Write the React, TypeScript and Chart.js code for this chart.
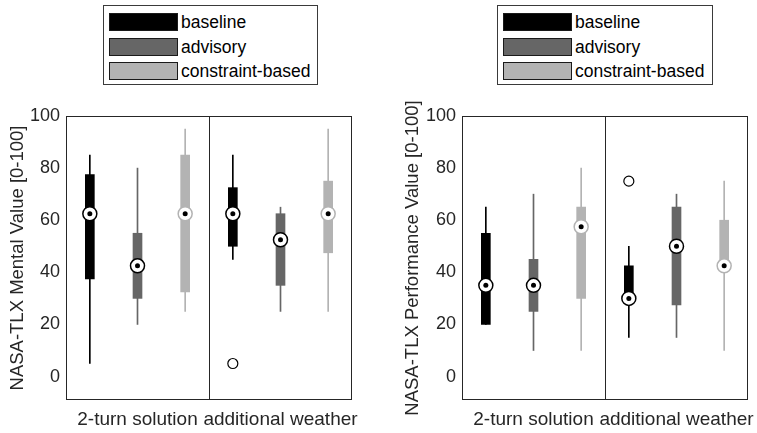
import React, { useEffect, useRef } from 'react';
import { Chart, registerables } from 'chart.js';
Chart.register(...registerables);

const categories = ['2-turn solution', 'additional weather'];
const categoryTicks = [2, 5];
const groups = ['baseline', 'advisory', 'constraint-based'];
const boxPositions = [1, 2, 3, 4, 5, 6];
const yTicks = [0, 20, 40, 60, 80, 100];

// NASA-TLX Mental
const mentalLow = [5, 20, 25, 45, 25, 25];
const mentalQ1 = [37.5, 30, 32.5, 50, 35, 47.5];
const mentalMedian = [62.5, 42.5, 62.5, 62.5, 52.5, 62.5];
const mentalQ3 = [77.5, 55, 85, 72.5, 62.5, 75];
const mentalHigh = [85, 80, 95, 85, 65, 95];
const mentalOutlierX = [4];
const mentalOutlierY = [5];

// NASA-TLX Performance
const perfLow = [20, 10, 10, 15, 15, 10];
const perfQ1 = [20, 25, 30, 30, 27.5, 42.5];
const perfMedian = [35, 35, 57.5, 30, 50, 42.5];
const perfQ3 = [55, 45, 65, 42.5, 65, 60];
const perfHigh = [65, 70, 80, 50, 70, 75];
const perfOutlierX = [4];
const perfOutlierY = [75];

const groupFill = ['#000000', '#666666', '#b3b3b3'];
const medianEdge = ['#000000', '#000000', '#b3b3b3'];
const FONT = '"Liberation Sans", Arial, Helvetica, sans-serif';
const TEXT = '#262626';

const framePlugin = {
  id: 'frame',
  beforeDatasetsDraw(chart: any) {
    const { ctx, chartArea } = chart;
    const l = Math.round(chartArea.left) + 0.5;
    const t = Math.round(chartArea.top) + 0.5;
    const r = Math.round(chartArea.right) - 0.5;
    const b = Math.round(chartArea.bottom) - 0.5;
    ctx.save();
    ctx.strokeStyle = '#262626';
    ctx.lineWidth = 1;
    ctx.strokeRect(l, t, r - l, b - t);
    const xd = Math.round(chart.scales.x.getPixelForValue(3.5)) + 0.5;
    ctx.beginPath();
    ctx.moveTo(xd, t);
    ctx.lineTo(xd, b);
    ctx.stroke();
    ctx.restore();
  },
};

type PanelProps = {
  low: number[];
  q1: number[];
  median: number[];
  q3: number[];
  high: number[];
  outX: number[];
  outY: number[];
  title: string;
  width: number;
  yAxisWidth: number;
  rightPad: number;
};

function Panel(p: PanelProps) {
  const ref = useRef<HTMLCanvasElement | null>(null);
  useEffect(() => {
    if (!ref.current) return;
    const colorOf = (i: number) => groupFill[i % 3];
    const chart = new Chart(ref.current, {
      type: 'bar',
      data: {
        datasets: [
          {
            type: 'bar',
            data: boxPositions.map((x, i) => ({ x, y: [p.low[i], p.high[i]] })) as any,
            backgroundColor: boxPositions.map((_, i) => colorOf(i)),
            barThickness: 1,
            grouped: false,
            borderWidth: 0,
            order: 5,
          } as any,
          {
            type: 'bar',
            data: boxPositions.map((x, i) => ({ x, y: [p.q1[i], p.q3[i]] })) as any,
            backgroundColor: boxPositions.map((_, i) => colorOf(i)),
            barThickness: 9,
            grouped: false,
            borderWidth: 0,
            order: 4,
          } as any,
          {
            type: 'scatter',
            data: boxPositions.map((x, i) => ({ x, y: p.median[i] })),
            pointRadius: 7,
            pointBackgroundColor: '#ffffff',
            pointBorderColor: boxPositions.map((_, i) => medianEdge[i % 3]),
            pointBorderWidth: 1.5,
            order: 3,
          } as any,
          {
            type: 'scatter',
            data: boxPositions.map((x, i) => ({ x, y: p.median[i] })),
            pointRadius: 2.5,
            pointBackgroundColor: '#000000',
            pointBorderWidth: 0,
            order: 2,
          } as any,
          {
            type: 'scatter',
            data: p.outX.map((x, i) => ({ x, y: p.outY[i] })),
            pointRadius: 5,
            pointBackgroundColor: '#ffffff',
            pointBorderColor: '#000000',
            pointBorderWidth: 1.2,
            order: 1,
          } as any,
        ],
      },
      options: {
        responsive: false,
        animation: false,
        events: [],
        layout: { padding: { left: 0, top: 116, right: p.rightPad, bottom: 0 } },
        plugins: { legend: { display: false }, tooltip: { enabled: false } },
        scales: {
          x: {
            type: 'linear',
            min: 0.5,
            max: 6.5,
            offset: false,
            grid: { display: false, drawTicks: false },
            border: { display: false },
            afterBuildTicks: (s: any) => {
              s.ticks = categoryTicks.map((v) => ({ value: v }));
            },
            afterFit: (s: any) => {
              s.height = 33;
              s.paddingLeft = 0;
              s.paddingRight = 0;
            },
            ticks: {
              autoSkip: false,
              maxRotation: 0,
              padding: 8,
              color: TEXT,
              font: { family: FONT, size: 19 },
              callback: (v: any) => {
                const k = categoryTicks.indexOf(Number(v));
                return k >= 0 ? categories[k] : '';
              },
            },
          },
          y: {
            type: 'linear',
            min: -9,
            max: 100,
            grid: { display: false, drawTicks: false },
            border: { display: false },
            afterBuildTicks: (s: any) => {
              s.ticks = yTicks.map((v) => ({ value: v }));
            },
            afterFit: (s: any) => {
              s.width = p.yAxisWidth;
              s.paddingTop = 0;
              s.paddingBottom = 0;
            },
            ticks: {
              padding: 6,
              color: TEXT,
              font: { family: FONT, size: 18 },
            },
            title: {
              display: true,
              text: p.title,
              color: TEXT,
              font: { family: FONT, size: 18.5 },
              padding: { top: 6.4, bottom: 0 },
            },
          },
        },
      } as any,
      plugins: [framePlugin],
    });
    return () => chart.destroy();
  }, []);
  return <canvas ref={ref} width={p.width} height={433} style={{ width: p.width, height: 433, display: 'block' }} />;
}

function Legend({ left, width }: { left: number; width: number }) {
  const rowTops = [12, 37, 61];
  return (
    <div
      style={{
        position: 'absolute',
        left,
        top: 5,
        width,
        height: 80,
        boxSizing: 'border-box',
        border: '1px solid #3a3a3a',
        background: '#fff',
        fontFamily: FONT,
        fontSize: 17.5,
        color: '#000',
      }}
    >
      {groups.map((g, i) => (
        <React.Fragment key={g}>
          <div
            style={{
              position: 'absolute',
              left: 5,
              top: rowTops[i] - 5,
              width: 69,
              height: 18,
              boxSizing: 'border-box',
              border: '1px solid #1a1a1a',
              background: groupFill[i],
            }}
          />
          <div
            style={{
              position: 'absolute',
              left: 77,
              top: rowTops[i] - 5,
              height: 18,
              lineHeight: '18px',
              whiteSpace: 'nowrap',
            }}
          >
            {g}
          </div>
        </React.Fragment>
      ))}
    </div>
  );
}

export default function App() {
  return (
    <div style={{ position: 'absolute', left: 0, top: 0, width: 757, height: 433, background: '#fff', overflow: 'hidden' }}>
      <div style={{ position: 'absolute', left: 0, top: 0 }}>
        <Panel
          low={mentalLow}
          q1={mentalQ1}
          median={mentalMedian}
          q3={mentalQ3}
          high={mentalHigh}
          outX={mentalOutlierX}
          outY={mentalOutlierY}
          title="NASA-TLX Mental Value [0-100]"
          width={378}
          yAxisWidth={66}
          rightPad={26}
        />
      </div>
      <div style={{ position: 'absolute', left: 395, top: 0 }}>
        <Panel
          low={perfLow}
          q1={perfQ1}
          median={perfMedian}
          q3={perfQ3}
          high={perfHigh}
          outX={perfOutlierX}
          outY={perfOutlierY}
          title="NASA-TLX Performance Value [0-100]"
          width={362}
          yAxisWidth={67}
          rightPad={9}
        />
      </div>
      <Legend left={103} width={215} />
      <Legend left={497} width={216} />
    </div>
  );
}
